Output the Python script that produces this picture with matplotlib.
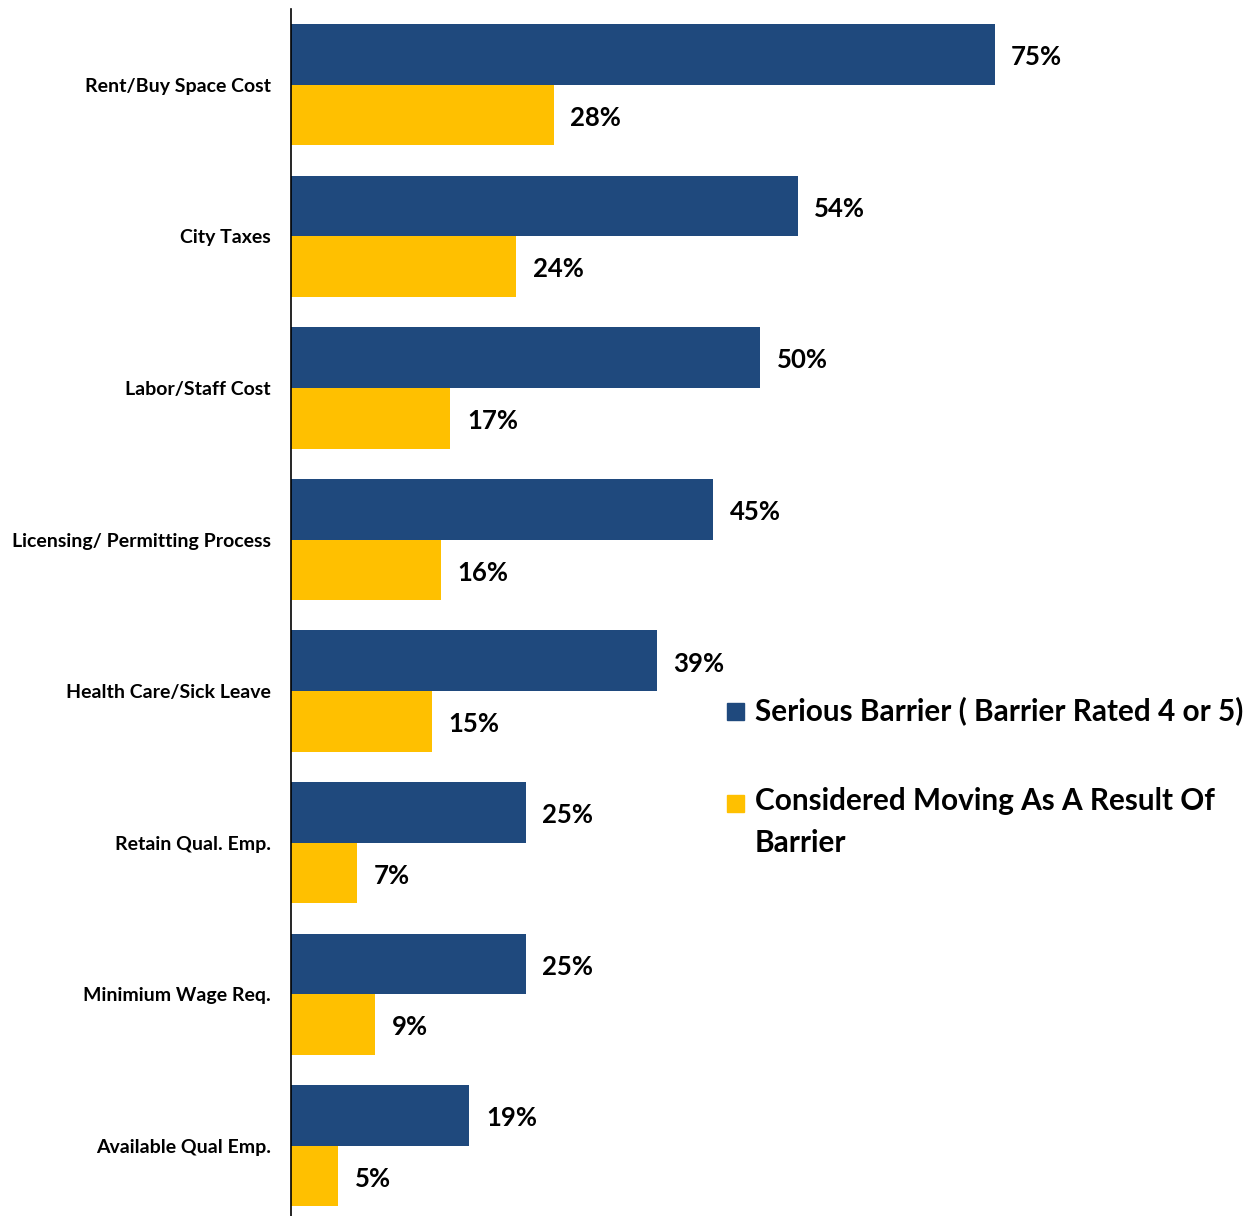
import numpy as np
import matplotlib
matplotlib.use("Agg")
import matplotlib.pyplot as plt
from matplotlib.patches import Rectangle

plt.rcParams['font.family'] = ['Lato', 'DejaVu Sans']
plt.rcParams['font.weight'] = 'bold'

categories = [
    "Rent/Buy Space Cost",
    "City Taxes",
    "Labor/Staff Cost",
    "Licensing/ Permitting Process",
    "Health Care/Sick Leave",
    "Retain Qual. Emp.",
    "Minimium Wage Req.",
    "Available Qual Emp.",
]
serious_barrier = [75, 54, 50, 45, 39, 25, 25, 19]
considered_moving = [28, 24, 17, 16, 15, 7, 9, 5]
series_names = [
    "Serious Barrier ( Barrier Rated 4 or 5)",
    "Considered Moving As A Result Of\nBarrier",
]

BLUE = "#1F497D"
YELLOW = "#FFC000"
W, H = 1258, 1216

fig = plt.figure(figsize=(W / 100, H / 100), dpi=100)
ax = fig.add_axes([291 / W, -5.6 / H, 938 / W, 1212.6 / H])

y = np.arange(len(categories))
h = 0.4
bars1 = ax.barh(y - h / 2, serious_barrier, height=h, color=BLUE)
bars2 = ax.barh(y + h / 2, considered_moving, height=h, color=YELLOW)

for bars, vals in ((bars1, serious_barrier), (bars2, considered_moving)):
    for b, v in zip(bars, vals):
        ax.annotate(f"{v}%", (b.get_width(), b.get_y() + b.get_height() / 2),
                    xytext=(12, -2), textcoords="offset points",
                    ha="left", va="center", fontsize=18.5, fontweight="bold")

ax.set_xlim(0, 100)
ax.set_ylim(len(categories) - 0.5, -0.5)
ax.set_yticks(y)
ax.set_yticklabels(categories, fontsize=14, fontweight="bold")
ax.tick_params(axis="y", length=0, pad=14.4)
ax.set_xticks([])
for side in ("top", "right", "bottom"):
    ax.spines[side].set_visible(False)
ax.spines["left"].set_linewidth(1.2)

# legend: square marker + label, marker level with the first text line
# (square top, baseline of the last text line) in px from the top
legend_rows = [(703, 720), (795, 852)]
for (sq_top, base), name, col in zip(legend_rows, series_names, (BLUE, YELLOW)):
    fig.add_artist(Rectangle((727 / W, 1 - (sq_top + 17) / H), 17 / W, 17 / H,
                             transform=fig.transFigure, color=col))
    fig.text(755 / W, 1 - base / H, name, ha="left", va="baseline",
             fontsize=21.4, fontweight="bold", linespacing=1.6)

fig.savefig("out.png", dpi=100)
